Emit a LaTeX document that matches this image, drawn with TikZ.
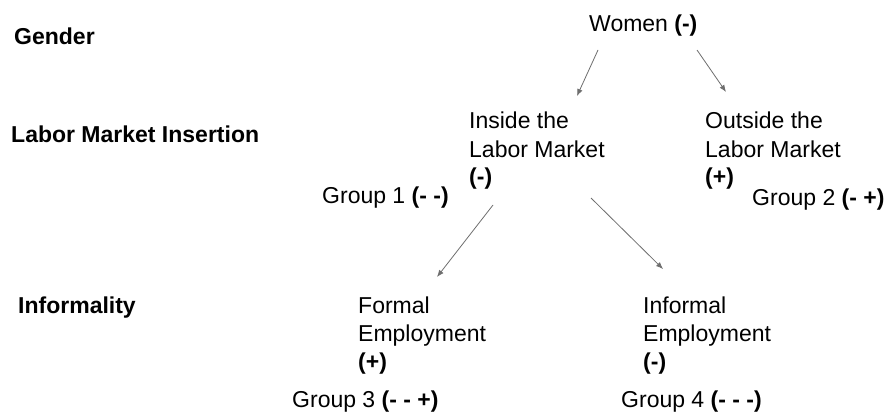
\documentclass[tikz,border=0pt]{standalone}
\usepackage{fontspec}
\setmainfont{Liberation Sans}
\usetikzlibrary{arrows.meta,calc}
\definecolor{arrowgray}{HTML}{6E6E6E}
\begin{document}
\begin{tikzpicture}[x=1pt,y=-1pt,
  txt/.style={font=\fontsize{23}{28}\selectfont, inner sep=0pt, anchor=base west, align=left},
  lvl/.style={txt, font=\fontsize{23}{28}\selectfont\bfseries},
  arr/.style={draw=arrowgray, line width=0.8pt, -{Latex[length=7pt,width=5.5pt]}}]
\useasboundingbox[fill=white] (0,0) rectangle (885,414);
\node[lvl] (gender) at (14,45) {Gender};
\node[lvl] (lmi) at (11,143) {Labor Market Insertion};
\node[lvl] (inf) at (18,313) {Informality};
\node[txt] (women) at (589,32) {Women \textbf{(-)}};
% multi-line nodes: base anchor is the baseline of the last line
\node[txt] (inside) at (469,185) {Inside the\\Labor Market\\\textbf{(-)}};
\node[txt] (outside) at (705,185) {Outside the\\Labor Market\\\textbf{(+)}};
\node[txt] (g1) at (322,204) {Group 1 \textbf{(- -)}};
\node[txt] (g2) at (752,205) {Group 2 \textbf{(- +)}};
\node[txt] (formal) at (358,369) {Formal\\Employment\\\textbf{(+)}};
\node[txt] (informal) at (643,369) {Informal\\Employment\\\textbf{(-)}};
\node[txt] (g3) at (292,407) {Group 3 \textbf{(- - +)}};
\node[txt] (g4) at (621,407) {Group 4 \textbf{(- - -)}};
\draw[arr] ($(women.base west)+(9,18)$) -- ($(inside.base west)+(108,-89)$);
\draw[arr] ($(women.base west)+(108,18)$) -- ($(outside.base west)+(21,-93)$);
\draw[arr] ($(inside.base west)+(24,20)$) -- ($(formal.base west)+(79,-92)$);
\draw[arr] ($(inside.base west)+(122,13)$) -- ($(informal.base west)+(20,-100)$);
\end{tikzpicture}
\end{document}
